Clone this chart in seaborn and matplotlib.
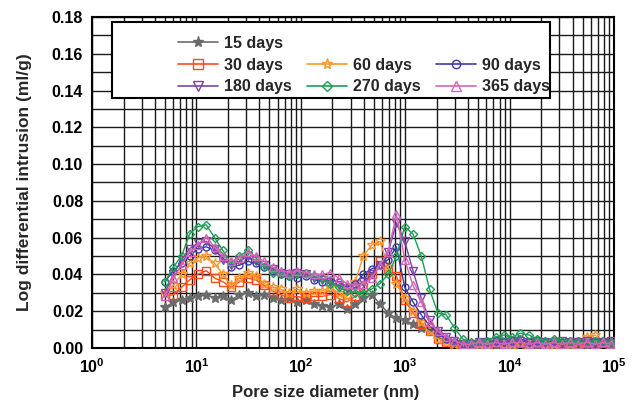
import numpy as np
import pandas as pd
import matplotlib
matplotlib.use("Agg")
import matplotlib.pyplot as plt
import seaborn as sns
from matplotlib.lines import Line2D
from matplotlib.patches import Rectangle
from matplotlib.ticker import LogLocator, MultipleLocator, NullFormatter

diameter = [5.0, 6.0, 7.2, 8.6, 10.3, 12.4, 14.9, 17.9, 21.5, 25.8, 31, 37, 44.5, 53.5, 64, 77, 92,
            111, 133, 160, 192, 230, 276, 331, 397, 477, 572, 686, 823, 988, 1186, 1423, 1708,
            2050, 2460, 2950, 3540, 4250, 5100, 6120, 7340, 8810, 10570, 12690, 15230, 18270,
            21930, 26310, 31570, 37890, 45470, 54560, 65470, 78560, 94280]

d15 = [0.022, 0.025, 0.026, 0.027, 0.028, 0.029, 0.027, 0.028, 0.026, 0.029, 0.030, 0.028, 0.029,
       0.027, 0.026, 0.027, 0.025, 0.026, 0.024, 0.023, 0.022, 0.024, 0.021, 0.024, 0.027, 0.029,
       0.024, 0.019, 0.016, 0.015, 0.013, 0.011, 0.009, 0.007, 0.005, 0.003, 0.002, 0.001, 0.001,
       0.002, 0.001, 0.002, 0.001, 0.002, 0.002, 0.001, 0.002, 0.001, 0.002, 0.001, 0.002, 0.001,
       0.002, 0.002, 0.001]
d30 = [0.028, 0.029, 0.033, 0.037, 0.040, 0.042, 0.038, 0.036, 0.033, 0.036, 0.038, 0.037, 0.034,
       0.031, 0.029, 0.027, 0.028, 0.027, 0.028, 0.028, 0.029, 0.027, 0.025, 0.028, 0.033, 0.040,
       0.047, 0.043, 0.039, 0.026, 0.019, 0.013, 0.009, 0.005, 0.003, 0.001, 0.001, 0.000, 0.001,
       0.000, 0.001, 0.000, 0.001, 0.000, 0.001, 0.000, 0.001, 0.000, 0.001, 0.000, 0.001, 0.000,
       0.001, 0.000, 0.001]
d60 = [0.030, 0.034, 0.040, 0.046, 0.049, 0.050, 0.046, 0.040, 0.034, 0.038, 0.041, 0.039, 0.035,
       0.033, 0.032, 0.030, 0.032, 0.030, 0.031, 0.031, 0.033, 0.030, 0.028, 0.036, 0.050, 0.056,
       0.058, 0.044, 0.035, 0.027, 0.020, 0.014, 0.009, 0.005, 0.003, 0.002, 0.001, 0.002, 0.002,
       0.002, 0.003, 0.002, 0.002, 0.003, 0.002, 0.003, 0.002, 0.002, 0.003, 0.002, 0.003, 0.006,
       0.007, 0.004, 0.003]
d90 = [0.036, 0.042, 0.046, 0.050, 0.054, 0.055, 0.053, 0.049, 0.044, 0.045, 0.047, 0.046, 0.044,
       0.042, 0.040, 0.039, 0.038, 0.039, 0.037, 0.036, 0.037, 0.036, 0.033, 0.035, 0.040, 0.043,
       0.045, 0.048, 0.055, 0.033, 0.025, 0.018, 0.012, 0.008, 0.005, 0.003, 0.002, 0.002, 0.003,
       0.003, 0.004, 0.003, 0.004, 0.005, 0.003, 0.004, 0.003, 0.004, 0.003, 0.003, 0.004, 0.003,
       0.003, 0.004, 0.003]
d180 = [0.030, 0.040, 0.048, 0.054, 0.057, 0.058, 0.054, 0.048, 0.045, 0.047, 0.050, 0.047, 0.045,
        0.043, 0.041, 0.040, 0.041, 0.040, 0.038, 0.037, 0.036, 0.034, 0.032, 0.033, 0.036, 0.040,
        0.045, 0.052, 0.068, 0.058, 0.042, 0.027, 0.015, 0.009, 0.006, 0.004, 0.002, 0.002, 0.003,
        0.003, 0.004, 0.003, 0.004, 0.004, 0.003, 0.004, 0.003, 0.003, 0.004, 0.003, 0.003, 0.004,
        0.003, 0.003, 0.004]
d270 = [0.036, 0.044, 0.050, 0.062, 0.066, 0.067, 0.060, 0.053, 0.046, 0.050, 0.053, 0.049, 0.044,
        0.041, 0.040, 0.039, 0.040, 0.041, 0.039, 0.038, 0.035, 0.033, 0.031, 0.030, 0.030, 0.032,
        0.035, 0.040, 0.050, 0.066, 0.062, 0.050, 0.032, 0.019, 0.018, 0.011, 0.005, 0.003, 0.003,
        0.004, 0.006, 0.007, 0.006, 0.008, 0.007, 0.005, 0.004, 0.005, 0.004, 0.004, 0.003, 0.003,
        0.004, 0.003, 0.003]
d365 = [0.028, 0.038, 0.045, 0.052, 0.056, 0.060, 0.055, 0.050, 0.047, 0.049, 0.052, 0.050, 0.047,
        0.044, 0.042, 0.041, 0.042, 0.041, 0.040, 0.040, 0.041, 0.038, 0.035, 0.034, 0.035, 0.038,
        0.045, 0.052, 0.073, 0.048, 0.034, 0.025, 0.014, 0.009, 0.006, 0.004, 0.002, 0.002, 0.003,
        0.002, 0.003, 0.002, 0.003, 0.003, 0.002, 0.003, 0.002, 0.003, 0.002, 0.003, 0.002, 0.003,
        0.002, 0.003, 0.002]

labels = ["15 days", "30 days", "60 days", "90 days", "180 days", "270 days", "365 days"]
series = [d15, d30, d60, d90, d180, d270, d365]
colors = ["#6b6b6b", "#ff4a1c", "#ff9428", "#3c3ca8", "#7c44a8", "#1f9e55", "#d466b8"]
markers = ["*", "s", "*", "o", "v", "D", "^"]
msizes = [7, 5.5, 7, 5, 5.5, 4.5, 5.5]
filled = [True, False, False, False, False, False, False]

sns.set_style("white")
plt.rcParams['font.family'] = ['Liberation Sans', 'DejaVu Sans']
plt.rcParams['font.weight'] = 'bold'

fig = plt.figure(figsize=(6.35, 4.05), dpi=100)
ax = fig.add_axes([0.145, 0.141, 0.822, 0.817])

handles = []
for lab, vals, c, m, ms, f in zip(labels, series, colors, markers, msizes, filled):
    df = pd.DataFrame({"d": diameter, "v": vals})
    sns.lineplot(data=df, x="d", y="v", ax=ax, color=c, marker=m, markersize=ms,
                 markerfacecolor=c if f else "none", markeredgecolor=c, markeredgewidth=1.0,
                 linewidth=1.0, legend=False, zorder=3)
    handles.append(Line2D([], [], color=c, marker=m, markersize=ms + 1,
                          markerfacecolor=c if f else "none", markeredgecolor=c,
                          linewidth=1.2, markeredgewidth=1.0))

ax.set_xscale("log")
ax.set_xlim(1, 1e5)
ax.set_ylim(0, 0.18)
ax.xaxis.set_major_locator(LogLocator(base=10, numticks=10))
ax.xaxis.set_minor_locator(LogLocator(base=10, subs=np.arange(2, 10), numticks=20))
ax.xaxis.set_minor_formatter(NullFormatter())
ax.yaxis.set_major_locator(MultipleLocator(0.02))
ax.yaxis.set_minor_locator(MultipleLocator(0.01))
ax.yaxis.set_major_formatter(matplotlib.ticker.FormatStrFormatter('%.2f'))

ax.grid(True, which="both", color="#1a1a1a", linewidth=1.0, zorder=0)
ax.set_axisbelow(True)
for s in ax.spines.values():
    s.set_visible(True)
    s.set_color("black")
    s.set_linewidth(1.5)

ax.tick_params(axis="both", which="major", direction="inout", length=7, width=1.2,
               labelsize=11.5, colors="black")
ax.tick_params(axis="y", which="major", pad=3)
ax.tick_params(axis="both", which="minor", direction="inout", length=5, width=1.0)
for t in ax.get_xticklabels() + ax.get_yticklabels():
    t.set_fontweight("bold")

ax.set_xlabel("Pore size diameter (nm)", fontsize=12, fontweight="bold", labelpad=1)
ax.xaxis.set_label_coords(0.447, -0.112)
ax.set_ylabel("Log differential intrusion (ml/g)", fontsize=12.5, fontweight="bold")
ax.yaxis.set_label_coords(-0.115, 0.5)

# legend frame
frame = Rectangle((0.0383, 0.755), 0.839, 0.23, transform=ax.transAxes,
                  facecolor="white", edgecolor="black", linewidth=1.5, zorder=4)
ax.add_patch(frame)

blank = Line2D([], [], linestyle="none", marker=None)
leg_handles = [handles[0], handles[1], handles[4], blank, handles[2], handles[5], blank, handles[3], handles[6]]
leg_labels = [labels[0], labels[1], labels[4], "", labels[2], labels[5], "", labels[3], labels[6]]
leg = ax.legend(leg_handles, leg_labels, ncol=3, loc="upper left",
                bbox_to_anchor=(0.165, 0.76, 0.712, 0.183), mode="expand",
                frameon=False, prop={"weight": "bold", "size": 11.5},
                handlelength=2.5, handletextpad=0.35,
                borderpad=0, labelspacing=0.42, borderaxespad=0, columnspacing=0.5)
leg.set_zorder(5)
fig.savefig("out.png", dpi=100)
